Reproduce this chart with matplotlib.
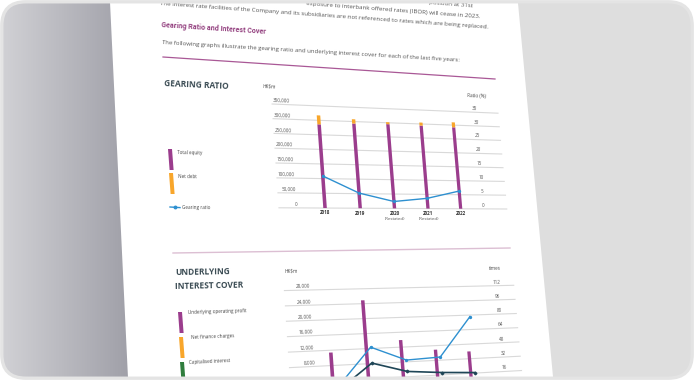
import numpy as np
import matplotlib
matplotlib.use("Agg")
import matplotlib.pyplot as plt
import matplotlib.artist as martist
from matplotlib import transforms as mtransforms
from matplotlib.path import Path
from matplotlib.patches import Polygon, FancyBboxPatch
from matplotlib.font_manager import FontProperties

# ---------------- data ----------------
years = ["2018", "2019", "2020", "2021", "2022"]
year_notes = ["", "", "(Restated)", "(Restated)", ""]

total_equity = [286000, 293000, 295000, 294000, 292000]
net_debt = [31000, 15000, 7000, 11000, 18000]
gearing_ratio = [10.9, 5.2, 2.4, 3.6, 6.3]

gear_hk_ticks = [0, 50000, 100000, 150000, 200000, 250000, 300000, 350000]
gear_hk_labels = ["0", "50,000", "100,000", "150,000", "200,000", "250,000", "300,000", "350,000"]
gear_pct_ticks = [0, 5, 10, 15, 20, 25, 30, 35]
gear_pct_labels = ["0", "5", "10", "15", "20", "25", "30", "35"]

operating_profit = [11400, 24900, 13900, 10900, 10000]
net_finance = [1240, 505, 410, 310, 130]
capitalised = [830, 260, 230, 280, 470]
interest_cover = [9.2, 49.4, 33.9, 35.4, 78.4]
interest_cover_incl = [5.5, 32.5, 21.7, 18.6, 16.6]

cover_hk_ticks = [0, 4000, 8000, 12000, 16000, 20000, 24000, 28000]
cover_hk_labels = ["0", "4,000", "8,000", "12,000", "16,000", "20,000", "24,000", "28,000"]
cover_x_ticks = [0, 16, 32, 48, 64, 80, 96, 112]
cover_x_labels = ["0", "16", "32", "48", "64", "80", "96", "112"]

# ---------------- style ----------------
PURPLE = "#9b3d8d"
ORANGE = "#f8a62b"
GREEN = "#2f7d3d"
BLUE = "#2e90d0"
DARK = "#1f4657"
GRID = "#d9d9d9"
TXT = "#555555"
HEAD = "#3a4b53"
TITLE = "#93407f"
FAM = ["Open Sans", "DejaVu Sans"]
HFAM = ["Roboto", "DejaVu Sans"]

W, H = 694, 380
fig = plt.figure(figsize=(W / 100, H / 100), dpi=100)
fig.patch.set_facecolor("white")
R = fig.canvas.get_renderer()

# ---------------- perspective (page -> photo) ----------------
src = np.array([[272, 103], [502, 103], [272, 208], [502, 208],
                [272, 290], [502, 290], [502, 380], [272, 365]], float)
dst = np.array([[272, 104], [498, 113], [280, 208], [507, 209],
                [283, 290], [513, 286], [522, 370], [290, 368]], float)
A, b = [], []
for (u, v), (x, y) in zip(src, dst):
    A.append([u, v, 1, 0, 0, 0, -u * x, -v * x]); b.append(x)
    A.append([0, 0, 0, u, v, 1, -u * y, -v * y]); b.append(y)
hv = np.linalg.lstsq(np.array(A), np.array(b), rcond=None)[0]
HM = np.append(hv, 1.0).reshape(3, 3)
HINV = np.linalg.inv(HM)


def hom(M, x, y):
    d = M[2, 0] * x + M[2, 1] * y + M[2, 2]
    return (M[0, 0] * x + M[0, 1] * y + M[0, 2]) / d, (M[1, 0] * x + M[1, 1] * y + M[1, 2]) / d


class Persp(mtransforms.Transform):
    input_dims = 2
    output_dims = 2
    is_separable = False
    has_inverse = False

    def transform_non_affine(self, values):
        v = np.asarray(values, float).reshape(-1, 2)
        x, y = hom(HM, v[:, 0], H - v[:, 1])
        return np.column_stack([x, H - y])

    def transform_path_non_affine(self, path):
        return Path(self.transform_non_affine(path.vertices), path.codes)


P = Persp()

# ---------------- background ----------------
bg = fig.add_axes([0, 0, 1, 1])
bg.axis("off")
card = FancyBboxPatch((2, 2), W - 4, H - 4, boxstyle="round,pad=0,rounding_size=24",
                      transform=bg.transData, fc="#dedede", ec="none", zorder=0)
bg.add_patch(card)
g = np.linspace(0, 1, 200)
c0 = np.array([0.82, 0.82, 0.835]); c1 = np.array([0.61, 0.61, 0.645])
grad = (c0[None, :] * (1 - g[:, None]) + c1[None, :] * g[:, None])[None, :, :]
im = bg.imshow(grad, extent=(2, 140, H - 2, 2), aspect="auto", interpolation="bilinear", zorder=1)
im.set_clip_path(card)
page = Polygon([(109.9, 0), (517.7, 0), (553.3, H), (128.1, H)], closed=True,
               fc="white", ec="none", zorder=2)
bg.add_patch(page)
page.set_clip_path(card)
bg.set_xlim(0, W); bg.set_ylim(H, 0)


def clipcard(a):
    a.set_clip_on(True)
    a.set_clip_box(None)
    a.set_clip_path(card)


def warp(a):
    a.set_transform(martist.Artist.get_transform(a) + P)
    clipcard(a)


def fsize(s, target, weight="normal", family=FAM):
    fp = FontProperties(family=family, weight=weight, size=10)
    w, h, d = R.get_text_width_height_descent(s, fp, ismath=False)
    return 10.0 * target / w


def img_angle(x, y):
    u, v = hom(HINV, x, y)
    x1, y1 = hom(HM, u + 20, v)
    return -np.degrees(np.arctan2(y1 - y, x1 - x))


def itext(x, y, s, family=FAM, **kw):
    t = bg.text(x, y, s, rotation=img_angle(x, y), rotation_mode="anchor",
                family=family, **kw)
    clipcard(t)
    return t


def flat_angle(X, Y):
    p = P.transform_non_affine(np.array([[X, Y], [X + 20, Y]]))
    return np.degrees(np.arctan2(p[1, 1] - p[0, 1], p[1, 0] - p[0, 0]))


def wtext(trans, x, y, s, dx=0.0, dy=0.0, **kw):
    base = trans + mtransforms.Affine2D().translate(dx, dy)
    X, Y = base.transform((x, y))
    t = fig.text(x, y, s, transform=base + P, rotation=flat_angle(X, Y),
                 rotation_mode="anchor", family=FAM, **kw)
    clipcard(t)
    return t


def flat_axes(u0, u1, v_top, v_bot):
    ax = fig.add_axes([u0 / W, (H - v_bot) / H, (u1 - u0) / W, (v_bot - v_top) / H])
    ax.axis("off")
    return ax


# ---------------- page text ----------------
rowc = "The interest rate facilities of the Company and its subsidiaries are not referenced to rates which are being replaced."
body = fsize(rowc, 328)
itext(473, 6.0, "position at 31st",
      ha="right", va="center", fontsize=body, color=TXT)
itext(480, 16.5, "exposure to interbank offered rates (IBOR) will cease in 2023.",
      ha="right", va="center", fontsize=body, color=TXT)
itext(160, 3.5, rowc, ha="left", va="center", fontsize=body, color=TXT)
ttl = "Gearing Ratio and Interest Cover"
itext(161, 25.5, ttl, family=HFAM, ha="left", va="center",
      fontsize=fsize(ttl, 104, "bold", HFAM), weight="bold", color=TITLE)
sub = "The following graphs illustrate the gearing ratio and underlying interest cover for each of the last five years:"
itext(162, 42.5, sub, ha="left", va="center", fontsize=fsize(sub, 301), color=TXT)

bg.plot([163, 495], [57, 79], color="#a95896", lw=0.9, zorder=3, clip_path=card)
bg.plot([173, 510], [253, 248], color="#dcbfd3", lw=1.0, zorder=3, clip_path=card)

hs = fsize("INTEREST COVER", 68, "bold")
itext(164, 84, "GEARING RATIO", ha="left", va="center", fontsize=hs, weight="bold", color=HEAD)
itext(175, 273, "UNDERLYING", ha="left", va="center", fontsize=hs, weight="bold", color=HEAD)
itext(175, 286.5, "INTEREST COVER", ha="left", va="center", fontsize=hs, weight="bold", color=HEAD)

ls = fsize("Underlying operating profit", 59)
sw = [((168, 149), PURPLE, "Total equity", (177, 153)),
      ((169, 173), ORANGE, "Net debt", (178, 177)),
      ((178, 312), PURPLE, "Underlying operating profit", (188, 313)),
      ((179, 337), ORANGE, "Net finance charges", (191, 338)),
      ((180, 362), GREEN, "Capitalised interest", (189, 363))]
for (x0, y0), col, lab, (tx, ty) in sw:
    pg = Polygon([(x0, y0), (x0 + 4, y0), (x0 + 5.6, y0 + 21), (x0 + 1.6, y0 + 21)],
                 closed=True, fc=col, ec="none", zorder=4)
    bg.add_patch(pg); clipcard(pg)
    itext(tx, ty, lab, ha="left", va="center", fontsize=ls, color="#444444")
bg.plot([170, 180], [207, 207.6], color=BLUE, lw=1.0, zorder=4)
bg.plot([175], [207.3], color=BLUE, marker="o", ms=1.8, zorder=4)
itext(182, 207.5, "Gearing ratio", ha="left", va="center", fontsize=ls, color="#444444")

tk = fsize("350,000", 17)
itext(269, 86, "HK$m", ha="center", va="center", fontsize=tk, color="#444444")
itext(476.5, 96, "Ratio (%)", ha="center", va="center", fontsize=tk, color="#444444")
itext(291, 270.5, "HK$m", ha="center", va="center", fontsize=tk, color="#444444")
itext(495, 268, "times", ha="center", va="center", fontsize=tk, color="#444444")
bg.set_xlim(0, W); bg.set_ylim(H, 0)

x = np.arange(len(years))
XL = (-1.275, 5.45)

# ---------------- gearing ratio chart ----------------
ax1 = flat_axes(272, 502, 103, 208)
ax1.set_xlim(*XL); ax1.set_ylim(0, 350000)
ax1r = ax1.twinx(); ax1r.axis("off"); ax1r.set_ylim(0, 35)
for t in gear_hk_ticks:
    warp(ax1.axhline(t, color=GRID, lw=0.8, zorder=1))
bars = list(ax1.bar(x, total_equity, width=0.1, color=PURPLE, zorder=3))
bars += list(ax1.bar(x, net_debt, width=0.1, bottom=total_equity, color=ORANGE, zorder=3))
for p_ in bars:
    warp(p_)
ln, = ax1r.plot(x, gearing_ratio, color=BLUE, lw=1.0, marker="o", ms=1.4, zorder=4)
warp(ln)
ax1.set_xlim(*XL); ax1.set_ylim(0, 350000); ax1r.set_ylim(0, 35)
for t, s in zip(gear_hk_ticks, gear_hk_labels):
    wtext(ax1.get_yaxis_transform(), 0.074, t, s, dy=1.2, ha="right", va="bottom",
          fontsize=tk, color=TXT)
for t, s in zip(gear_pct_ticks, gear_pct_labels):
    wtext(ax1r.get_yaxis_transform(), 0.89, t, s, dy=1.2, ha="center", va="bottom",
          fontsize=tk, color=TXT)
for i, (yr, nt) in enumerate(zip(years, year_notes)):
    wtext(ax1.get_xaxis_transform(), i, 0, yr, dy=-2.5, ha="center", va="top",
          fontsize=tk, weight="bold", color="#333333")
    if nt:
        wtext(ax1.get_xaxis_transform(), i, 0, nt, dy=-9.0, ha="center", va="top",
              fontsize=tk * 0.95, color=TXT)

# ---------------- interest cover chart ----------------
ax2 = flat_axes(272, 502, 290, 395)
ax2.set_xlim(*XL); ax2.set_ylim(0, 28000)
ax2r = ax2.twinx(); ax2r.axis("off"); ax2r.set_ylim(0, 112)
for t in cover_hk_ticks:
    warp(ax2.axhline(t, color=GRID, lw=0.8, zorder=1))
bars2 = list(ax2.bar(x - 0.125, operating_profit, width=0.1, color=PURPLE, zorder=3))
bars2 += list(ax2.bar(x, net_finance, width=0.1, color=ORANGE, zorder=3))
bars2 += list(ax2.bar(x + 0.125, capitalised, width=0.1, color=GREEN, zorder=3))
for p_ in bars2:
    warp(p_)
l1, = ax2r.plot(x, interest_cover, color=BLUE, lw=1.0, marker="o", ms=1.4, zorder=4)
l2, = ax2r.plot(x, interest_cover_incl, color=DARK, lw=1.2, marker="D", ms=1.4, zorder=4)
warp(l1); warp(l2)
ax2.set_xlim(*XL); ax2.set_ylim(0, 28000); ax2r.set_ylim(0, 112)
for t, s in zip(cover_hk_ticks[2:], cover_hk_labels[2:]):
    wtext(ax2.get_yaxis_transform(), 0.105, t, s, dy=1.2, ha="right", va="bottom",
          fontsize=tk, color=TXT)
for t, s in zip(cover_x_ticks[1:], cover_x_labels[1:]):
    wtext(ax2r.get_yaxis_transform(), 0.92, t, s, dy=1.2, ha="center", va="bottom",
          fontsize=tk, color=TXT)

# ---------------- frame border ----------------
ov = fig.add_axes([0, 0, 1, 1], zorder=10)
ov.axis("off")
ov.set_xlim(0, W); ov.set_ylim(H, 0)
ov.add_patch(FancyBboxPatch((1.8, 1.8), W - 3.6, H - 3.6, boxstyle="round,pad=0,rounding_size=24",
                            transform=ov.transData, fc="none", ec="#e4e4e4", lw=2.4))

fig.savefig("out.png", dpi=100, facecolor="white")
